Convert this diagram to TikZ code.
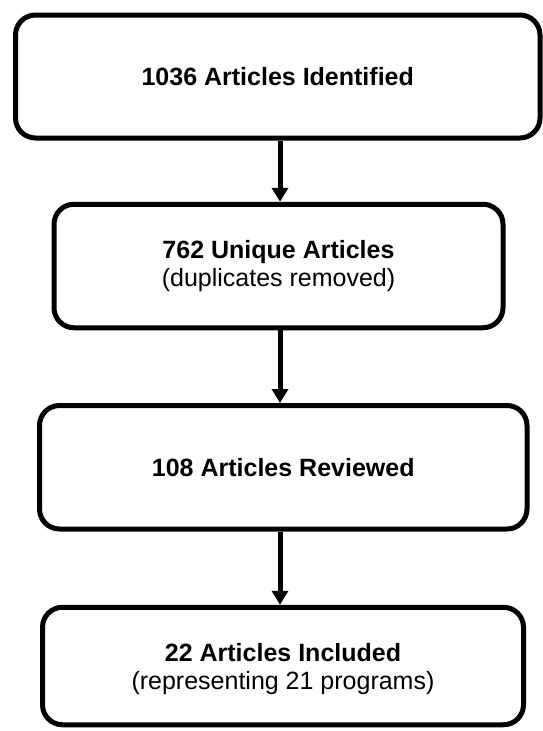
\documentclass[tikz,border=0pt]{standalone}
\usepackage{fontspec}
\setmainfont{Liberation Sans}
\usetikzlibrary{arrows.meta}
\begin{document}
\begin{tikzpicture}[x=1pt,y=-1pt,
  flowbox/.style={draw=black, line width=5pt, rounded corners=20pt,
    rectangle, align=center, inner sep=0pt,
    font=\fontsize{25}{27.5}\selectfont},
  flowarrow/.style={line width=5pt, -{Triangle[length=14pt,width=16pt]}}]
  \useasboundingbox (0,0) rectangle (543,731);
  \node[flowbox, minimum width=524.5pt, minimum height=123pt] (b1) at (277.75,76.5)
    {\textbf{1036 Articles Identified}};
  \node[flowbox, minimum width=449pt, minimum height=123.5pt] (b2) at (278.5,266)
    {\textbf{762 Unique Articles}\\(duplicates removed)};
  \node[flowbox, minimum width=487.5pt, minimum height=123.5pt] (b3) at (283.25,467.25)
    {\textbf{108 Articles Reviewed}};
  \node[flowbox, minimum width=481pt, minimum height=117.5pt] (b4) at (283,666)
    {\rule{0pt}{24pt}\textbf{22 Articles Included}\\(representing 21 programs)};
  \coordinate (ax) at (280,0);
  \draw[flowarrow] (b1.south -| ax) -- (b2.north -| ax);
  \draw[flowarrow] (b2.south -| ax) -- (b3.north -| ax);
  \draw[flowarrow] (b3.south -| ax) -- (b4.north -| ax);
\end{tikzpicture}
\end{document}
